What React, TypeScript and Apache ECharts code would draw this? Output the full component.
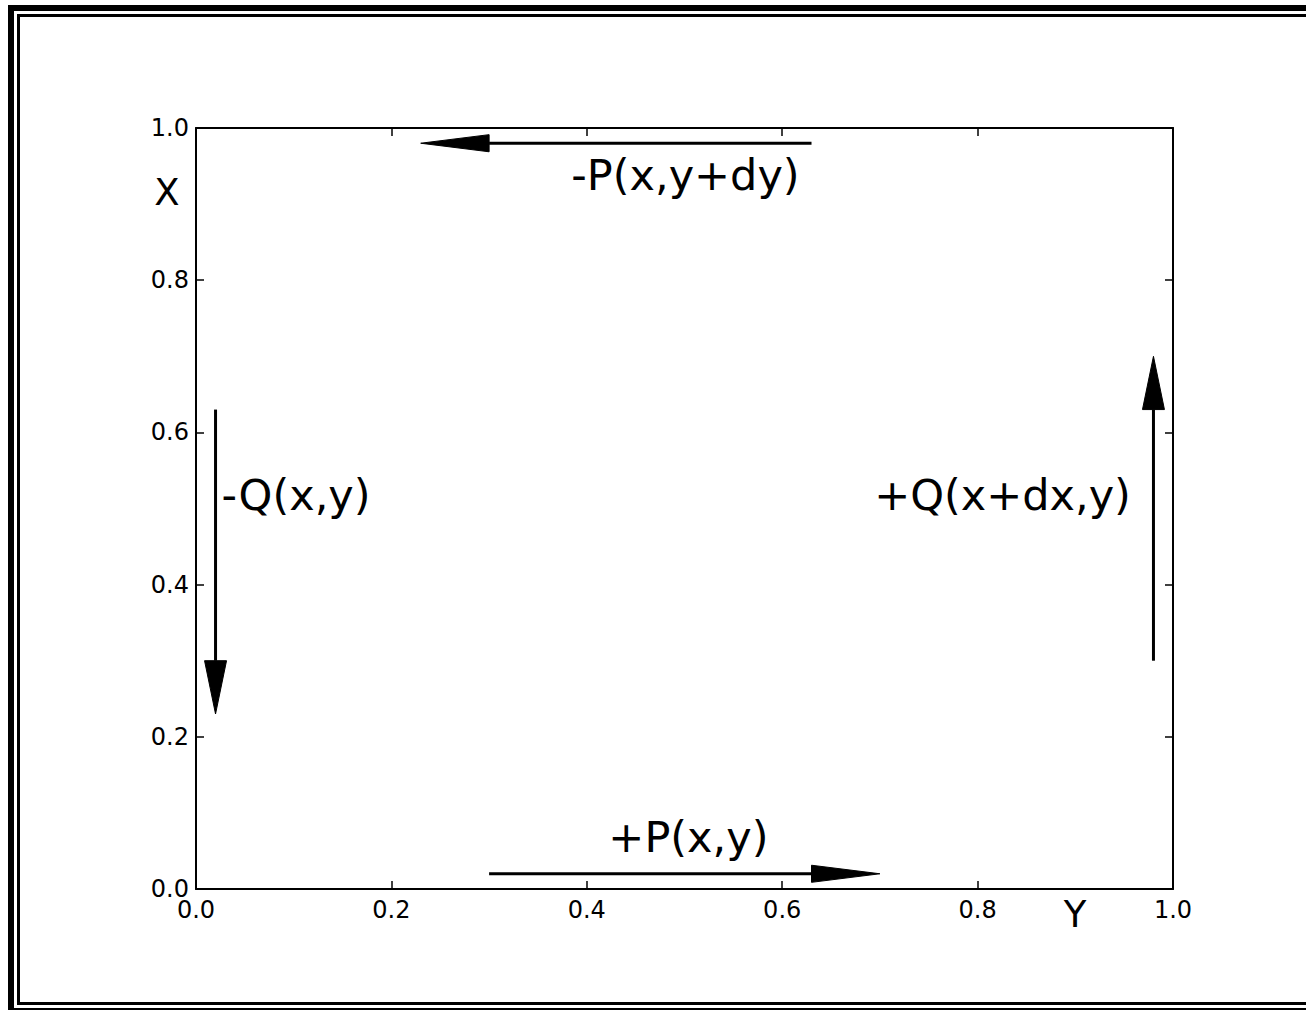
import React, { useEffect, useRef } from "react";
import * as echarts from "echarts";

// Axis range and tick step
const axisMin = 0;
const axisMax = 1;
const tickStep = 0.2;

// Arrows: start and tip in data coordinates
const arrowFrom: number[][] = [
  [0.3, 0.02],
  [0.98, 0.3],
  [0.63, 0.98],
  [0.02, 0.63],
];
const arrowTo: number[][] = [
  [0.7, 0.02],
  [0.98, 0.7],
  [0.23, 0.98],
  [0.02, 0.23],
];

// Flux labels (centered anchors, data coordinates)
const labelTexts = ["+P(x,y)", "+Q(x+dx,y)", "-P(x,y+dy)", "-Q(x,y)"];
const labelPos: number[][] = [
  [0.504, 0.068],
  [0.8255, 0.518],
  [0.501, 0.938],
  [0.1024, 0.518],
];

// Axis name labels
const axisNames = ["X", "Y"];
const axisNamePos: number[][] = [
  [-0.0297, 0.915],
  [0.8997, -0.033],
];

const FONT = '"DejaVu Sans", sans-serif';
const HEAD_LEN = 0.07;
const HEAD_HALF_W = 0.01125;

export default function App() {
  const ref = useRef<HTMLDivElement>(null);

  useEffect(() => {
    if (!ref.current) return;
    const chart = echarts.init(ref.current, undefined, { renderer: "svg" });

    const arrowData = arrowFrom.map((f, i) => [f[0], f[1], arrowTo[i][0], arrowTo[i][1]]);
    const labelData = labelPos.map((p, i) => [p[0], p[1], i]);
    const nameData = axisNamePos.map((p, i) => [p[0], p[1], i]);

    const fmt = (v: number) => v.toFixed(1);

    const tickCommon = {
      type: "value" as const,
      min: axisMin,
      max: axisMax,
      interval: tickStep,
      splitLine: { show: false },
      axisLine: { show: true, onZero: false, lineStyle: { color: "#000", width: 2 } },
      axisTick: { show: true, inside: true, length: 8, lineStyle: { color: "#000", width: 1.5 } },
    };

    chart.setOption({
      animation: false,
      backgroundColor: "#fff",
      grid: { left: 196, top: 128, right: 133, bottom: 121, containLabel: false },
      xAxis: [
        {
          ...tickCommon,
          position: "bottom",
          axisLabel: {
            show: true,
            fontSize: 24,
            fontFamily: FONT,
            color: "#000",
            margin: 9,
            showMinLabel: true,
            showMaxLabel: true,
            formatter: fmt,
          },
        },
        { ...tickCommon, position: "top", axisLabel: { show: false } },
      ],
      yAxis: [
        {
          ...tickCommon,
          position: "left",
          axisLabel: {
            show: true,
            fontSize: 24,
            fontFamily: FONT,
            color: "#000",
            margin: 7,
            showMinLabel: true,
            showMaxLabel: true,
            formatter: fmt,
          },
        },
        { ...tickCommon, position: "right", axisLabel: { show: false } },
      ],
      graphic: [
        {
          type: "rect",
          shape: { x: 11, y: 8, width: 1320 - 11, height: 1011 - 8 },
          style: { fill: "none", stroke: "#000", lineWidth: 6 },
          silent: true,
        },
        {
          type: "rect",
          shape: { x: 18.5, y: 15.5, width: 1312 - 18.5, height: 1003.5 - 15.5 },
          style: { fill: "none", stroke: "#000", lineWidth: 3 },
          silent: true,
        },
      ],
      series: [
        {
          type: "custom",
          xAxisIndex: 0,
          yAxisIndex: 0,
          silent: true,
          clip: false,
          data: arrowData,
          encode: { x: [0, 2], y: [1, 3] },
          renderItem: (params: any, api: any) => {
            const x0 = api.value(0), y0 = api.value(1), x1 = api.value(2), y1 = api.value(3);
            const dx = x1 - x0, dy = y1 - y0;
            const len = Math.sqrt(dx * dx + dy * dy);
            const ux = dx / len, uy = dy / len;
            const bx = x1 - ux * HEAD_LEN, by = y1 - uy * HEAD_LEN;
            const px = -uy * HEAD_HALF_W, py = ux * HEAD_HALF_W;
            const pStart = api.coord([x0, y0]);
            const pBase = api.coord([bx, by]);
            const pTip = api.coord([x1, y1]);
            const pL = api.coord([bx + px, by + py]);
            const pR = api.coord([bx - px, by - py]);
            return {
              type: "group",
              children: [
                {
                  type: "line",
                  shape: { x1: pStart[0], y1: pStart[1], x2: pBase[0], y2: pBase[1] },
                  style: { stroke: "#000", lineWidth: 3 },
                },
                {
                  type: "polygon",
                  shape: { points: [pTip, pL, pR] },
                  style: { fill: "#000", stroke: "#000", lineWidth: 1 },
                },
              ],
            };
          },
        },
        {
          type: "custom",
          xAxisIndex: 0,
          yAxisIndex: 0,
          silent: true,
          clip: false,
          data: labelData,
          encode: { x: 0, y: 1 },
          renderItem: (params: any, api: any) => {
            const p = api.coord([api.value(0), api.value(1)]);
            return {
              type: "text",
              style: {
                text: labelTexts[api.value(2)],
                x: p[0],
                y: p[1],
                fill: "#000",
                fontSize: 43,
                fontFamily: FONT,
                align: "center",
                verticalAlign: "middle",
              },
            };
          },
        },
        {
          type: "custom",
          xAxisIndex: 0,
          yAxisIndex: 0,
          silent: true,
          clip: false,
          data: nameData,
          encode: { x: 0, y: 1 },
          renderItem: (params: any, api: any) => {
            const p = api.coord([api.value(0), api.value(1)]);
            return {
              type: "text",
              style: {
                text: axisNames[api.value(2)],
                x: p[0],
                y: p[1],
                fill: "#000",
                fontSize: 37,
                fontFamily: FONT,
                align: "center",
                verticalAlign: "middle",
              },
            };
          },
        },
      ],
    });

    return () => chart.dispose();
  }, []);

  return (
    <div
      ref={ref}
      style={{ position: "fixed", left: 0, top: 0, width: 1306, height: 1010, background: "#fff" }}
    />
  );
}
